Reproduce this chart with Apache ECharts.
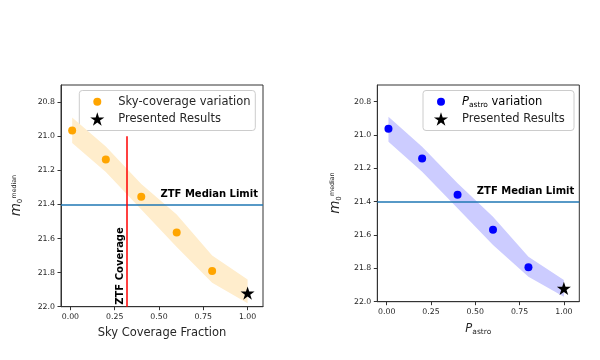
<!DOCTYPE html>
<html>
<head>
<meta charset="utf-8">
<script src="https://cdn.jsdelivr.net/npm/echarts@6/dist/echarts.min.js"></script>
<style>html,body{margin:0;padding:0;background:#fff;}#c{width:600px;height:360px;}</style>
</head>
<body>
<div id="c"></div>
<script>
// ---- data ----
const skyX = [0.01, 0.2, 0.4, 0.6, 0.8];
const skyY = [20.967, 21.137, 21.355, 21.565, 21.79];
const skyBandX = [0.01, 0.2, 0.4, 0.6, 0.8, 1.0];
const skyBandTop = [20.89, 21.06, 21.28, 21.46, 21.70, 21.84];
const skyBandBot = [21.04, 21.21, 21.43, 21.65, 21.86, 21.98];

const pX = [0.01, 0.2, 0.4, 0.6, 0.8];
const pY = [20.962, 21.141, 21.358, 21.568, 21.793];
const pBandX = [0.01, 0.2, 0.4, 0.6, 0.8, 1.0];
const pBandTop = [20.89, 21.07, 21.29, 21.49, 21.73, 21.87];
const pBandBot = [21.04, 21.22, 21.44, 21.66, 21.85, 21.97];

const presented = [1.0, 21.92];
const ztfMedianLimit = 21.4;
const ztfCoverage = 0.32;
const ztfCoverageSpan = [21.0, 22.0];

const xTicks = [0, 0.25, 0.5, 0.75, 1.0];
const yTicks = [20.8, 21.0, 21.2, 21.4, 21.6, 21.8, 22.0];
const legendSky = ['Sky-coverage variation', 'Presented Results'];

// ---- styling ----
const FONT = 'DejaVu Sans';
const AX = '#333333';
const TXT = '#262626';
const starPath = 'M0,-50 L11.23,-15.45 L47.55,-15.45 L18.16,5.9 L29.39,40.45 L0,19.1 L-29.39,40.45 L-18.16,5.9 L-47.55,-15.45 L-11.23,-15.45 Z';

function starPoints(cx, cy, R) {
  const pts = [];
  for (let k = 0; k < 10; k++) {
    const r = k % 2 === 0 ? R : R * 0.382;
    const a = (-90 + 36 * k) * Math.PI / 180;
    pts.push([cx + r * Math.cos(a), cy + r * Math.sin(a)]);
  }
  return pts;
}

function xAxisCfg(gi, name, nameStyle) {
  return {
    type: 'value', gridIndex: gi, min: -0.053, max: 1.087,
    axisLine: { show: true, onZero: false, lineStyle: { color: AX, width: 1 } },
    axisTick: { show: true, customValues: xTicks, length: 3.5, lineStyle: { color: AX } },
    axisLabel: { customValues: xTicks, formatter: v => v.toFixed(2), fontFamily: FONT, fontSize: 7.8, color: TXT, margin: 6 },
    splitLine: { show: false },
    name: name, nameLocation: 'middle', nameGap: 20,
    nameTextStyle: nameStyle
  };
}
function yAxisCfg(gi) {
  return {
    type: 'value', gridIndex: gi, inverse: true, min: 20.7, max: 22.0,
    axisLine: { show: true, onZero: false, lineStyle: { color: AX, width: 1 } },
    axisTick: { show: true, customValues: yTicks, length: 3.5, lineStyle: { color: AX } },
    axisLabel: { customValues: yTicks, formatter: v => v.toFixed(1), fontFamily: FONT, fontSize: 7.8, color: TXT, margin: 6 },
    splitLine: { show: false }
  };
}
function bandSeries(gi, bx, bt, bb, color) {
  return {
    type: 'custom', xAxisIndex: gi, yAxisIndex: gi, z: 1, silent: true, clip: true,
    data: bx.map((x, i) => [x, bt[i], bb[i]]),
    renderItem: function (params, api) {
      if (params.dataIndex !== 0) return null;
      const pts = [];
      for (let i = 0; i < bx.length; i++) pts.push(api.coord([bx[i], bt[i]]));
      for (let i = bx.length - 1; i >= 0; i--) pts.push(api.coord([bx[i], bb[i]]));
      return { type: 'polygon', shape: { points: pts }, style: { fill: color } };
    }
  };
}
function medianMark() {
  return {
    silent: true, symbol: ['none', 'none'], animation: false,
    data: [
      { yAxis: ztfMedianLimit, lineStyle: { color: '#1f77b4', width: 1.5, type: 'solid' },
        label: { show: true, position: 'insideEndTop', formatter: 'ZTF Median Limit', fontFamily: FONT, fontWeight: 'bold', fontSize: 10, color: '#000' } }
    ]
  };
}
function redMark() {
  const redLine = { color: '#ff0000', width: 1.5, type: 'solid' };
  const redLabel = { show: true, position: 'insideStartTop', distance: 2, formatter: 'ZTF Coverage', fontFamily: FONT, fontWeight: 'bold', fontSize: 10, color: '#000' };
  const m = medianMark();
  m.data.push([ { coord: [ztfCoverage, ztfCoverageSpan[1]], lineStyle: redLine, label: redLabel },
                { coord: [ztfCoverage, ztfCoverageSpan[0]], lineStyle: redLine, label: redLabel } ]);
  return m;
}

const subRich = {
  p: { fontFamily: FONT, fontStyle: 'italic', fontSize: 11.5, color: TXT, lineHeight: 14 },
  s: { fontFamily: FONT, fontSize: 7.5, color: TXT, lineHeight: 8, verticalAlign: 'bottom' },
  n: { fontFamily: FONT, fontSize: 11.5, color: TXT, lineHeight: 14 }
};

function yLabel(cx, cy) {
  return {
    type: 'group', x: cx, y: cy, rotation: Math.PI / 2, silent: true,
    children: [
      { type: 'text', x: -13.7, y: 0.3, style: { text: 'm', fontFamily: FONT, fontStyle: 'italic', fontSize: 13.5, fill: TXT, align: 'center', verticalAlign: 'middle' } },
      { type: 'text', x: -5, y: 4, style: { text: '0', fontFamily: FONT, fontStyle: 'normal', fontSize: 7, fill: TXT, align: 'center', verticalAlign: 'middle' } },
      { type: 'text', x: 9.3, y: -2.5, style: { text: 'median', fontFamily: FONT, fontSize: 6.3, fill: TXT, align: 'center', verticalAlign: 'middle' } }
    ]
  };
}
function legendBox(x, y, w, h, color, labelText, rich) {
  const mx = x + 18, ty1 = y + 11.3, ty2 = y + 28.5;
  const first = rich
    ? { type: 'text', x: mx + 21, y: ty1, style: { text: labelText, rich: subRich, verticalAlign: 'middle' } }
    : { type: 'text', x: mx + 21, y: ty1, style: { text: labelText, fontFamily: FONT, fontSize: 11.5, fill: TXT, verticalAlign: 'middle' } };
  return {
    type: 'group', silent: true, z: 100,
    children: [
      { type: 'rect', shape: { x: x, y: y, width: w, height: h, r: 3 }, style: { fill: 'rgba(255,255,255,0.8)', stroke: '#cccccc', lineWidth: 1 } },
      { type: 'circle', shape: { cx: mx, cy: ty1, r: 4 }, style: { fill: color } },
      { type: 'polygon', shape: { points: starPoints(mx, ty2 + 0.7, 7.4) }, style: { fill: '#000' } },
      first,
      { type: 'text', x: mx + 21, y: ty2, style: { text: legendSky[1], fontFamily: FONT, fontSize: 11.5, fill: TXT, verticalAlign: 'middle' } }
    ]
  };
}

const chart = echarts.init(document.getElementById('c'), null, { renderer: 'canvas' });
chart.setOption({
  animation: false,
  backgroundColor: '#fff',
  grid: [
    { left: 61, width: 202, top: 85, height: 221.7, show: true, borderColor: AX, borderWidth: 1, backgroundColor: 'transparent' },
    { left: 377.3, width: 202, top: 85, height: 216.7, show: true, borderColor: AX, borderWidth: 1, backgroundColor: 'transparent' }
  ],
  xAxis: [
    xAxisCfg(0, 'Sky Coverage Fraction', { fontFamily: FONT, fontSize: 11.5, color: TXT }),
    xAxisCfg(1, '{p|P}{s|astro}', { rich: subRich })
  ],
  yAxis: [yAxisCfg(0), yAxisCfg(1)],
  series: [
    bandSeries(0, skyBandX, skyBandTop, skyBandBot, '#ffedcc'),
    { type: 'scatter', name: legendSky[0], xAxisIndex: 0, yAxisIndex: 0, z: 3, symbol: 'circle', symbolSize: 8,
      itemStyle: { color: '#ffa500', opacity: 1 }, data: skyX.map((x, i) => [x, skyY[i]]), markLine: redMark() },
    { type: 'scatter', name: legendSky[1], xAxisIndex: 0, yAxisIndex: 0, z: 4, symbol: 'path://' + starPath, symbolSize: [14, 13.3],
      itemStyle: { color: '#000', opacity: 1 }, data: [presented] },
    bandSeries(1, pBandX, pBandTop, pBandBot, '#ccccff'),
    { type: 'scatter', name: 'Pastro variation', xAxisIndex: 1, yAxisIndex: 1, z: 3, symbol: 'circle', symbolSize: 8,
      itemStyle: { color: '#0000ff', opacity: 1 }, data: pX.map((x, i) => [x, pY[i]]), markLine: medianMark() },
    { type: 'scatter', name: legendSky[1] + ' ', xAxisIndex: 1, yAxisIndex: 1, z: 4, symbol: 'path://' + starPath, symbolSize: [14, 13.3],
      itemStyle: { color: '#000', opacity: 1 }, data: [presented] }
  ],
  graphic: [
    yLabel(16.5, 196),
    yLabel(335, 193.5),
    legendBox(79.3, 90.5, 176, 40, '#ffa500', legendSky[0], false),
    legendBox(423, 90.5, 151, 40, '#0000ff', '{p|P}{s|astro}{n| variation}', true)
  ]
});
</script>
</body>
</html>
